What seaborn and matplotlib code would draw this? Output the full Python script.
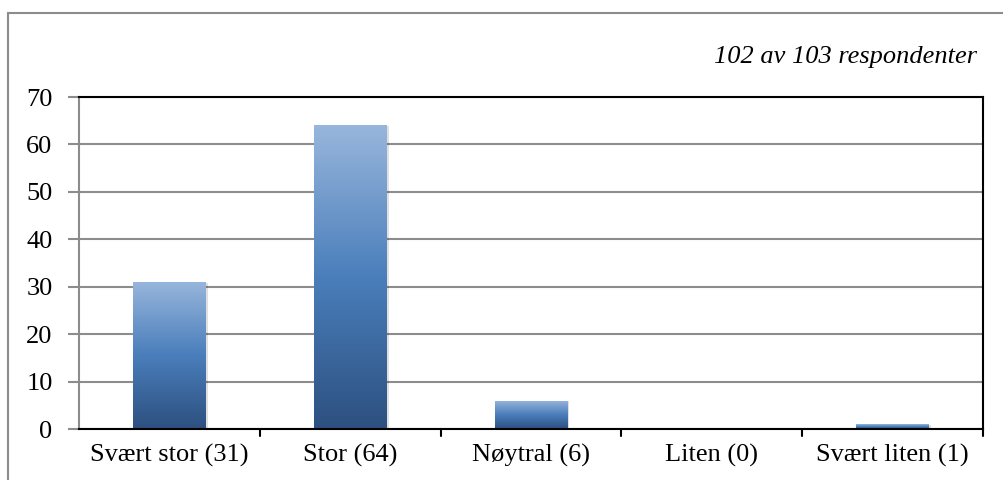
import matplotlib
matplotlib.use("Agg")
import matplotlib.pyplot as plt
import seaborn as sns
import numpy as np
import pandas as pd
from matplotlib.colors import LinearSegmentedColormap
from matplotlib.patches import Rectangle

categories = ["Svært stor (31)", "Stor (64)", "Nøytral (6)", "Liten (0)", "Svært liten (1)"]
values = [31, 64, 6, 0, 1]
y_ticks = [0, 10, 20, 30, 40, 50, 60, 70]
title_text = "102 av 103 respondenter"

sns.set_theme(style="white")
plt.rcParams['font.family'] = ['Liberation Serif', 'DejaVu Serif']
plt.rcParams['text.color'] = 'black'
FS = 19

fig = plt.figure(figsize=(10.04, 4.8), dpi=100)
# outer frame
fig.patches.append(Rectangle((8 / 1004, -0.1), 1.2, (480 - 13) / 480 + 0.1,
                             transform=fig.transFigure, fill=False,
                             edgecolor="#8c8c8c", linewidth=1.5, zorder=0))

ax = fig.add_axes([79 / 1004, 1 - 429 / 480, (983 - 79) / 1004, (429 - 97) / 480])
df = pd.DataFrame({"cat": categories, "val": values})
sns.barplot(data=df, x="cat", y="val", ax=ax, width=0.4, color="#4f81bd",
            saturation=1, edgecolor="none", zorder=3)

ax.set_ylim(0, 70)
ax.set_xlim(-0.5, len(categories) - 0.5)
ax.set_yticks(y_ticks)
ax.set_yticklabels([str(t) for t in y_ticks], fontsize=FS, color="black")
ax.set_xticks(range(len(categories)))
ax.set_xticklabels(categories, fontsize=FS, color="black")
ax.tick_params(axis="x", length=0, pad=11, colors="black")
ax.tick_params(axis="y", length=8, width=1.5, color="#8c8c8c", pad=11, labelcolor="black", left=True)
# category separator ticks
for b in np.arange(0.5, len(categories), 1.0):
    ax.plot([b, b], [0, -1.4], color="black", lw=1.5, clip_on=False, zorder=4)
ax.set_xlabel("")
ax.set_ylabel("")
ax.grid(axis="y", color="#8c8c8c", linewidth=1.5, zorder=0)
ax.set_axisbelow(True)
for s in ["top", "right", "bottom"]:
    ax.spines[s].set_color("black")
    ax.spines[s].set_linewidth(1.5)
ax.spines["left"].set_color("#8c8c8c")
ax.spines["left"].set_linewidth(1.5)
for s in ax.spines.values():
    s.set_visible(True)
    s.set_zorder(5)

# gradient fill on each bar
cmap = LinearSegmentedColormap.from_list("g", [(0, "#2d5080"), (0.5, "#4a7ebb"), (1, "#98b6dc")])
grad = np.linspace(0, 1, 256).reshape(-1, 1)
for p in list(ax.patches):
    h = p.get_height()
    if h <= 0:
        continue
    x0 = p.get_x(); w = p.get_width()
    # shadow
    ax.add_patch(Rectangle((x0 + 0.012, 0), w, max(h - 0.2, 0), facecolor="#000000",
                           alpha=0.12, edgecolor="none", zorder=2))
    im = ax.imshow(grad, cmap=cmap, aspect="auto", origin="lower",
                   extent=[x0, x0 + w, 0, h], zorder=3)
    im.set_clip_path(p)
    p.set_alpha(1)

ax.set_xlim(-0.5, len(categories) - 0.5)
ax.set_ylim(0, 70)

fig.text(977 / 1004, 1 - 57 / 480, title_text, ha="right", va="center",
         fontsize=FS, style="italic", color="black")

fig.savefig("out.png", dpi=100)
